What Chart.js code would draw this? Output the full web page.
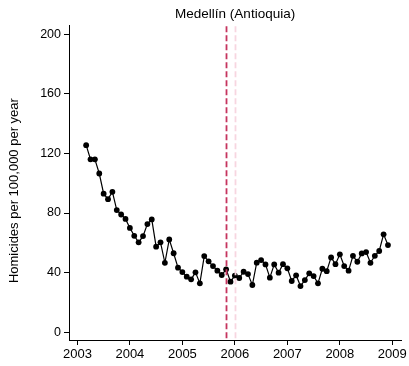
<!DOCTYPE html>
<html>
<head>
<meta charset="utf-8">
<script src="https://cdn.jsdelivr.net/npm/chart.js@4/dist/chart.umd.min.js"></script>
<style>
html,body{margin:0;padding:0;background:#fff;}
#wrap{width:409px;height:366px;}
</style>
</head>
<body>
<div id="wrap"><canvas id="c" width="409" height="366"></canvas></div>
<script>
// Monthly series, March 2003 to December 2008
const startYear = 2003;
const startMonth = 3;
const homicideRate = [
  125.5, 116, 116, 106.5, 93, 89.3, 94.2, 82, 79, 76,
  70, 64.7, 60.3, 64.5, 72.6, 75.7, 57.4, 60.3, 46.6, 62.3, 53, 43.3,
  40.4, 37.3, 35.5, 40.2, 32.8, 51.1, 47.6, 44.4, 41.3, 38.4, 42.2, 33.9,
  38, 36.4, 40.6, 39, 31.7, 46.7, 48.4, 45.5, 36.6, 45.5, 40, 45.7,
  42.9, 34.4, 38.2, 31, 35, 39.5, 37.7, 32.8, 42.6, 41, 50.2, 45.7,
  52.3, 44.4, 41.3, 51.3, 47.3, 52.9, 53.8, 46.6, 51.3, 54.5, 65.7, 58.5
];
const xTickYears = [2003, 2004, 2005, 2006, 2007, 2008, 2009];
const yTickValues = [0, 40, 80, 120, 160, 200];
const referenceLines = [2005 + 10/12, 2006.0];
const referenceColors = ['#c5345e', '#f7d6e0'];
const chartTitle = 'Medellín (Antioquia)';
const yAxisTitle = 'Homicides per 100,000 per year';

const points = homicideRate.map((v, i) => {
  const m = startMonth - 1 + i;
  return { x: startYear + m / 12, y: v };
});

const FONT = "'Liberation Sans', Arial, sans-serif";

const refLinePlugin = {
  id: 'refLines',
  afterDatasetsDraw(chart) {
    const { ctx, chartArea, scales } = chart;
    ctx.save();
    referenceLines.forEach((v, i) => {
      const px = Math.round(scales.x.getPixelForValue(v)) + 0.5;
      ctx.beginPath();
      ctx.strokeStyle = referenceColors[i];
      ctx.lineWidth = 1.8;
      ctx.setLineDash([6, 3]);
      ctx.moveTo(px, chartArea.top + 1);
      ctx.lineTo(px, chartArea.bottom);
      ctx.stroke();
    });
    ctx.restore();
  }
};

const yTitlePlugin = {
  id: 'yTitle',
  afterDraw(chart) {
    const { ctx, chartArea } = chart;
    ctx.save();
    ctx.translate(14, (chartArea.top + chartArea.bottom) / 2 + 8);
    ctx.rotate(-Math.PI / 2);
    ctx.fillStyle = '#000';
    ctx.font = "13px " + FONT;
    ctx.textAlign = 'center';
    ctx.textBaseline = 'middle';
    ctx.fillText(yAxisTitle, 0, 0);
    ctx.restore();
  }
};

new Chart(document.getElementById('c'), {
  type: 'line',
  data: {
    datasets: [{
      data: points,
      borderColor: '#000',
      backgroundColor: '#000',
      borderWidth: 1.2,
      pointRadius: 2.9,
      pointBackgroundColor: '#000',
      pointBorderWidth: 0,
      tension: 0,
      fill: false
    }]
  },
  options: {
    responsive: false,
    animation: false,
    devicePixelRatio: 1,
    layout: { padding: { left: 0, right: 7, top: 0, bottom: 0 } },
    plugins: {
      legend: { display: false },
      tooltip: { enabled: false },
      title: {
        display: true,
        text: chartTitle,
        fullSize: false,
        color: '#000',
        font: { family: FONT, size: 13.5, weight: 'normal' },
        padding: { top: 6, bottom: 3 }
      }
    },
    scales: {
      x: {
        type: 'linear',
        min: 2002.84,
        max: 2009.17,
        afterBuildTicks: s => { s.ticks = xTickYears.map(v => ({ value: v })); },
        afterFit: s => { s.height = 26; },
        ticks: {
          color: '#000',
          font: { family: FONT, size: 13 },
          padding: 2,
          maxRotation: 0,
          autoSkip: false,
          callback: v => String(v)
        },
        grid: { display: true, drawOnChartArea: false, drawTicks: true, tickLength: 5, color: '#000', tickWidth: 1 },
        border: { display: true, color: '#000', width: 1 }
      },
      y: {
        type: 'linear',
        min: -5.2,
        max: 206,
        afterBuildTicks: s => { s.ticks = yTickValues.map(v => ({ value: v })); },
        afterFit: s => { s.width = 69; },
        ticks: {
          color: '#000',
          font: { family: FONT, size: 12.5 },
          padding: 3,
          autoSkip: false,
          callback: v => String(v)
        },
        title: { display: false },
        grid: { display: true, drawOnChartArea: false, drawTicks: true, tickLength: 5, color: '#000', tickWidth: 1 },
        border: { display: true, color: '#000', width: 1 }
      }
    }
  },
  plugins: [refLinePlugin, yTitlePlugin]
});
</script>
</body>
</html>
